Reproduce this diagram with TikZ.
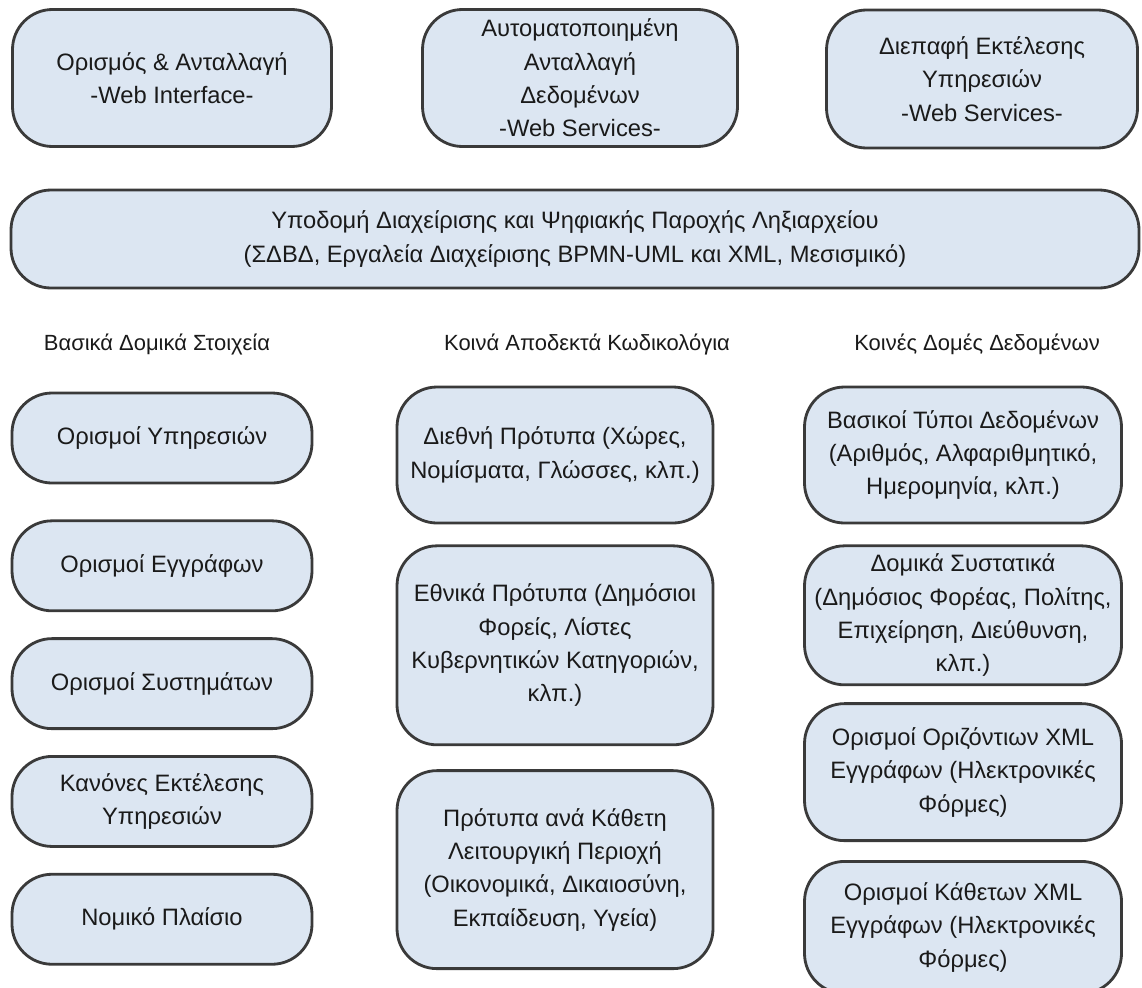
\documentclass[tikz,border=0pt]{standalone}
\usepackage{fontspec}
\setmainfont{Liberation Sans}
\usetikzlibrary{positioning}
\definecolor{boxfill}{HTML}{DCE6F2}
\definecolor{boxline}{HTML}{3A3A3A}
\definecolor{txtgray}{HTML}{1A1A1A}
\tikzset{
  blk/.style={draw=boxline, line width=1.6pt, rounded corners=0.8cm, fill=boxfill,
              align=center, inner sep=2pt, text=txtgray,
              font=\fontsize{13.5}{19}\selectfont},
  pill/.style={blk, minimum width=6.0cm, minimum height=1.8cm},
  head/.style={text=txtgray, font=\fontsize{12.5}{15}\selectfont},
}

\begin{document}
\begin{tikzpicture}
  \useasboundingbox (0,0) rectangle (22.84,-19.74);

  % top row
  \node (defx)  [blk, minimum width=6.38cm, minimum height=2.74cm] at (3.44,-1.56) {Ορισμός \& Ανταλλαγή\\-Web Interface-};
  \node (autox) [blk, minimum width=6.3cm, minimum height=2.74cm] at (11.6,-1.56) {Αυτοματοποιημένη\\Ανταλλαγή\\Δεδομένων\\-Web Services-};
  \node (execx) [blk, minimum width=6.22cm, minimum height=2.76cm] at (19.64,-1.58) {Διεπαφή Εκτέλεσης\\Υπηρεσιών\\-Web Services-};

  % infrastructure
  \node (infra) [blk, minimum width=22.56cm, minimum height=1.96cm] at (11.5,-4.78)
        {Υποδομή Διαχείρισης και Ψηφιακής Παροχής Ληξιαρχείου\\(ΣΔΒΔ, Εργαλεία Διαχείρισης BPMN-UML και XML, Μεσισμικό)};

  % column headings
  \node (hbase) [head] at (3.14,-6.88) {Βασικά Δομικά Στοιχεία};
  \node (hcode) [head] at (11.74,-6.88) {Κοινά Αποδεκτά Κωδικολόγια};
  \node (hdata) [head] at (19.54,-6.88) {Κοινές Δομές Δεδομένων};

  % left column
  \node (srv)  [pill] at (3.24,-8.76) {Ορισμοί Υπηρεσιών};
  \node (docs) [pill, below=0.7cm of srv] {Ορισμοί Εγγράφων};
  \node (sys)  [pill, below=0.5cm of docs] {Ορισμοί Συστημάτων};
  \node (rule) [pill, below=0.5cm of sys] {Κανόνες Εκτέλεσης\\Υπηρεσιών};
  \node (law)  [pill, below=0.5cm of rule] {Νομικό Πλαίσιο};

  % middle column
  \node (intl) [blk, minimum width=6.32cm, minimum height=2.72cm] at (11.1,-9.1) {Διεθνή Πρότυπα (Χώρες,\\Νομίσματα, Γλώσσες, κλπ.)};
  \node (natl) [blk, minimum width=6.32cm, minimum height=3.98cm, below=0.4cm of intl] {Εθνικά Πρότυπα (Δημόσιοι\\Φορείς, Λίστες\\Κυβερνητικών Κατηγοριών,\\κλπ.)};
  \node (vert) [blk, minimum width=6.32cm, minimum height=3.96cm, below=0.46cm of natl] {Πρότυπα ανά Κάθετη\\Λειτουργική Περιοχή\\(Οικονομικά, Δικαιοσύνη,\\Εκπαίδευση, Υγεία)};

  % right column
  \node (types) [blk, minimum width=6.34cm, minimum height=2.72cm] at (19.26,-9.1) {Βασικοί Τύποι Δεδομένων\\(Αριθμός, Αλφαριθμητικό,\\Ημερομηνία, κλπ.)};
  \node (parts) [blk, minimum width=6.34cm, minimum height=2.78cm, below=0.4cm of types] {Δομικά Συστατικά\\(Δημόσιος Φορέας, Πολίτης,\\Επιχείρηση, Διεύθυνση,\\κλπ.)};
  \node (hxml)  [blk, minimum width=6.34cm, minimum height=2.74cm, below=0.32cm of parts] {Ορισμοί Οριζόντιων XML\\Εγγράφων (Ηλεκτρονικές\\Φόρμες)};
  \node (vxml)  [blk, minimum width=6.34cm, minimum height=2.64cm, below=0.36cm of hxml] {Ορισμοί Κάθετων XML\\Εγγράφων (Ηλεκτρονικές\\Φόρμες)};
\end{tikzpicture}
\end{document}
